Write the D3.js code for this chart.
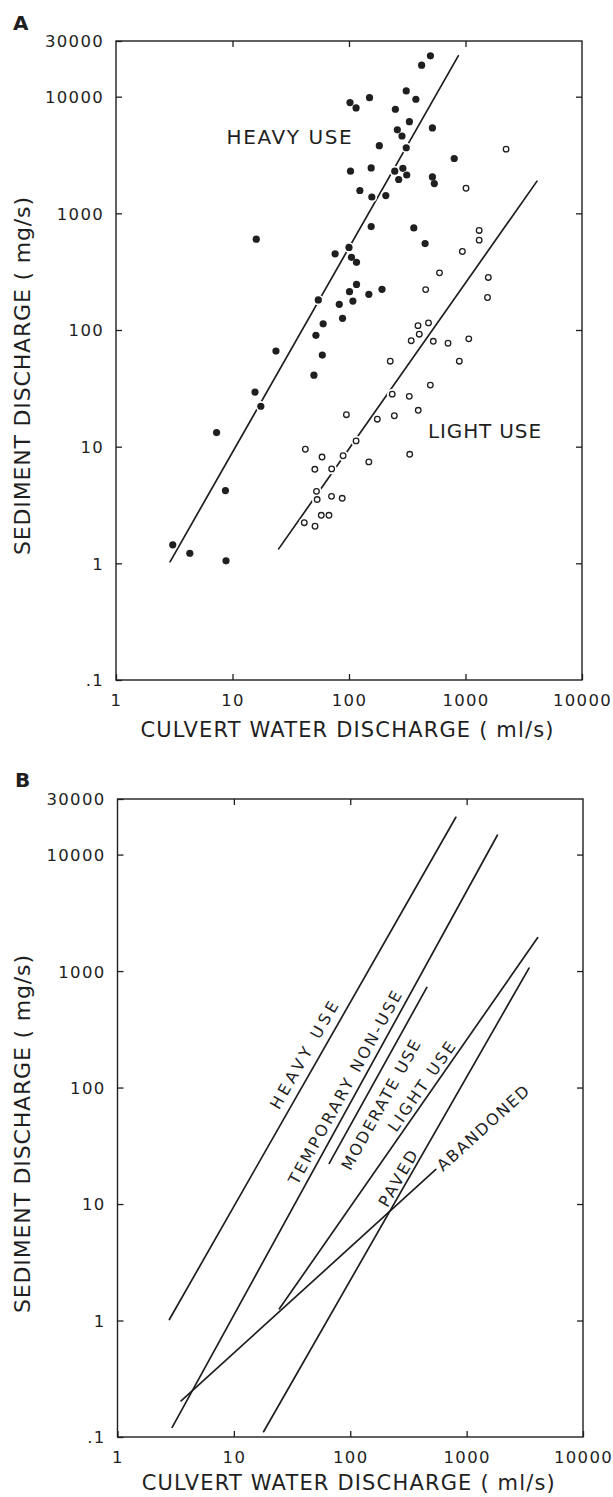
<!DOCTYPE html>
<html>
<head>
<meta charset="utf-8">
<script src="https://cdn.jsdelivr.net/npm/d3@7"></script>
<style>
  html, body { margin: 0; padding: 0; background: #fff; }
  svg { display: block; }
  text { font-family: "DejaVu Sans", sans-serif; fill: #1f1f1f; }
</style>
</head>
<body>
<svg id="chart" width="613" height="1497"></svg>
<script>
// Sediment discharge from road culverts vs. culvert water discharge (log-log)

// ---- axis ticks ----
const xTickValues = [1, 10, 100, 1000, 10000];
const xTickLabels = ["1", "10", "100", "1000", "10000"];
const yTickValues = [0.1, 1, 10, 100, 1000, 10000, 30000];
const yTickLabels = [".1", "1", "10", "100", "1000", "10000", "30000"];

// ---- panel A: heavy-use culverts (ml/s, mg/s) ----
const heavyWater = [500, 420, 310, 375, 102, 115, 150, 250, 330, 520,
  260, 285, 182, 310, 800, 103, 155, 247, 290, 313,
  267, 520, 540, 124, 157, 207, 155, 360, 450, 16,
  100, 76, 105, 116, 116, 101, 192, 148, 54.5, 82.5,
  108, 88, 60, 52, 59, 23.6, 50, 15.6, 17.5, 7.3,
  8.7, 3.07, 4.3, 8.8];
const heavySediment = [22400, 18600, 11200, 9500, 8900, 8000, 9800, 7800, 6100, 5400,
  5200, 4600, 3800, 3650, 2950, 2300, 2450, 2300, 2430, 2130,
  1950, 2050, 1800, 1570, 1380, 1420, 770, 750, 550, 600,
  510, 450, 420, 380, 246, 213, 223, 202, 181, 166,
  177, 126, 113, 90, 61, 66, 41, 29.4, 22.2, 13.2,
  4.2, 1.44, 1.22, 1.05];

// ---- panel A: light-use culverts ----
const lightWater = [2230, 1010, 1310, 1310, 940, 598, 1570, 455, 1545, 391,
  481, 401, 342, 529, 708, 1067, 885, 226, 499, 235,
  329, 393, 95, 175, 245, 115, 42.2, 332, 58.7, 89,
  148, 50.9, 71, 52.6, 53.3, 70.8, 87.4, 57.8, 67.3, 41.3,
  51.1];
const lightSediment = [3550, 1640, 713, 589, 471, 309, 282, 222, 190, 109,
  115, 92, 81, 80, 77, 84, 54, 54, 33.7, 28.2,
  27, 20.5, 18.8, 17.2, 18.4, 11.2, 9.5, 8.6, 8.15, 8.36,
  7.4, 6.4, 6.45, 4.14, 3.52, 3.75, 3.61, 2.58, 2.58, 2.23,
  2.08];

// ---- fitted relations, panel A (end points) ----
const fitNamesA = ["HEAVY USE", "LIGHT USE"];
const fitWaterA = [[2.91, 867], [24.9, 4110]];
const fitSedimentA = [[1.03, 22400], [1.33, 1888]];

// ---- fitted relations, panel B (end points) ----
const fitNamesB = ["HEAVY USE", "TEMPORARY NON-USE", "MODERATE USE", "LIGHT USE", "PAVED", "ABANDONED"];
const fitWaterB = [[2.79, 808], [2.95, 1837], [66, 455], [24.6, 4085], [18, 3437], [3.52, 544]];
const fitSedimentB = [[1.02, 20900], [0.121, 14650], [22.3, 724], [1.26, 1938], [0.111, 1061], [0.204, 19.8]];

// ---- layout ----
const panels = {
  A: { left: 116, right: 582, top: 41, bottom: 680, letterY: 30, letterX: 13, titleY: 737, ytitleShift: 15.5 },
  B: { left: 117.5, right: 583, top: 799, bottom: 1437, letterY: 787, letterX: 15, titleY: 1490, ytitleShift: 16 }
};
// label anchors in data units (water, sediment) and drawn length in px
const labelPlacementA = [
  { q: 8.9, s: 3920, len: 125 },
  { q: 477, s: 11.9, len: 113 }
];
const labelPlacementB = [
  { q: 40, s: 190, len: 121 },
  { q: 90, s: 100, len: 218 },
  { q: 183, s: 71, len: 146 },
  { q: 409, s: 102, len: 105 },
  { q: 257, s: 16.6, len: 62 },
  { q: 1380, s: 44.8, len: 118 }
];

const ink = "#1f1f1f";
const svg = d3.select("#chart");

function drawFrame(box, letter) {
  const x = d3.scaleLog().domain([1, 10000]).range([box.left, box.right]);
  const y = d3.scaleLog().domain([0.1, 30000]).range([box.bottom, box.top]);
  const g = svg.append("g");

  // tick label formatters from the label arrays
  const xf = v => xTickLabels[xTickValues.indexOf(v)];
  const yf = v => yTickLabels[yTickValues.indexOf(v)];

  const bottom = g.append("g").attr("transform", `translate(0,${box.bottom})`)
    .call(d3.axisBottom(x).tickValues(xTickValues).tickFormat(xf)
      .tickSizeInner(-6).tickSizeOuter(0).tickPadding(14.5));
  const left = g.append("g").attr("transform", `translate(${box.left},0)`)
    .call(d3.axisLeft(y).tickValues(yTickValues).tickFormat(yf)
      .tickSizeInner(-6).tickSizeOuter(0).tickPadding(12));
  const top = g.append("g").attr("transform", `translate(0,${box.top})`)
    .call(d3.axisTop(x).tickValues([10, 100, 1000]).tickFormat("")
      .tickSizeInner(-6).tickSizeOuter(0));
  const right = g.append("g").attr("transform", `translate(${box.right},0)`)
    .call(d3.axisRight(y).tickValues([1, 10, 100, 1000, 10000]).tickFormat("")
      .tickSizeInner(-6).tickSizeOuter(0));

  [bottom, left, top, right].forEach(a => {
    a.select(".domain").remove();
    a.selectAll("line").attr("stroke", ink).attr("stroke-width", 1.3);
    a.selectAll("text").attr("font-family", "DejaVu Sans, sans-serif")
      .attr("font-size", 16.5).attr("fill", ink).attr("letter-spacing", 1.3);
  });
  left.selectAll("text").attr("dy", "0.36em");

  g.append("rect")
    .attr("x", box.left).attr("y", box.top)
    .attr("width", box.right - box.left).attr("height", box.bottom - box.top)
    .attr("fill", "none").attr("stroke", ink).attr("stroke-width", 1.4);

  // panel letter
  g.append("text").attr("x", box.letterX).attr("y", box.letterY)
    .attr("font-size", 20).attr("font-weight", "bold").text(letter);

  // axis titles
  g.append("text")
    .attr("x", (box.left + box.right) / 2 - 2).attr("y", box.titleY)
    .attr("text-anchor", "middle").attr("font-size", 21)
    .attr("textLength", 413).attr("lengthAdjust", "spacing")
    .text("CULVERT WATER DISCHARGE ( ml/s)");
  const cy = (box.top + box.bottom) / 2 + box.ytitleShift;
  g.append("text")
    .attr("transform", `translate(30,${cy}) rotate(-90)`)
    .attr("text-anchor", "middle").attr("font-size", 22)
    .attr("textLength", 358).attr("lengthAdjust", "spacing")
    .text("SEDIMENT DISCHARGE ( mg/s)");

  return { g, x, y };
}

function drawFits(p, waters, seds) {
  p.g.append("g").selectAll("line")
    .data(waters.map((w, i) => ({ w, s: seds[i] })))
    .join("line")
    .attr("x1", d => p.x(d.w[0])).attr("y1", d => p.y(d.s[0]))
    .attr("x2", d => p.x(d.w[1])).attr("y2", d => p.y(d.s[1]))
    .attr("stroke", ink).attr("stroke-width", 1.7).attr("stroke-linecap", "round");
}

// ---------- Panel A ----------
const pA = drawFrame(panels.A, "A");
drawFits(pA, fitWaterA, fitSedimentA);

const heavyPts = heavyWater.map((w, i) => ({ w, s: heavySediment[i] }));
const lightPts = lightWater.map((w, i) => ({ w, s: lightSediment[i] }));

// white halos break the fitted lines around each observation
pA.g.append("g").selectAll("circle").data(heavyPts.concat(lightPts)).join("circle")
  .attr("cx", d => pA.x(d.w)).attr("cy", d => pA.y(d.s)).attr("r", 5.3).attr("fill", "#fff");

pA.g.append("g").selectAll("circle").data(heavyPts).join("circle")
  .attr("cx", d => pA.x(d.w)).attr("cy", d => pA.y(d.s)).attr("r", 3.6).attr("fill", ink);

pA.g.append("g").selectAll("circle").data(lightPts).join("circle")
  .attr("cx", d => pA.x(d.w)).attr("cy", d => pA.y(d.s)).attr("r", 2.8)
  .attr("fill", "#fff").attr("stroke", ink).attr("stroke-width", 1.3);

pA.g.append("g").selectAll("text").data(fitNamesA).join("text")
  .attr("x", (d, i) => pA.x(labelPlacementA[i].q))
  .attr("y", (d, i) => pA.y(labelPlacementA[i].s))
  .attr("font-size", 20)
  .attr("textLength", (d, i) => labelPlacementA[i].len).attr("lengthAdjust", "spacing")
  .text(d => d);

// ---------- Panel B ----------
const pB = drawFrame(panels.B, "B");
drawFits(pB, fitWaterB, fitSedimentB);

pB.g.append("g").selectAll("text").data(fitNamesB).join("text")
  .attr("transform", (d, i) => {
    const w = fitWaterB[i], s = fitSedimentB[i];
    const ang = Math.atan2(pB.y(s[1]) - pB.y(s[0]), pB.x(w[1]) - pB.x(w[0])) * 180 / Math.PI;
    const L = labelPlacementB[i];
    return `translate(${pB.x(L.q)},${pB.y(L.s)}) rotate(${ang})`;
  })
  .attr("text-anchor", "middle").attr("dy", "0.36em")
  .attr("font-size", 16)
  .attr("textLength", (d, i) => labelPlacementB[i].len).attr("lengthAdjust", "spacing")
  .text(d => d);
</script>
</body>
</html>
